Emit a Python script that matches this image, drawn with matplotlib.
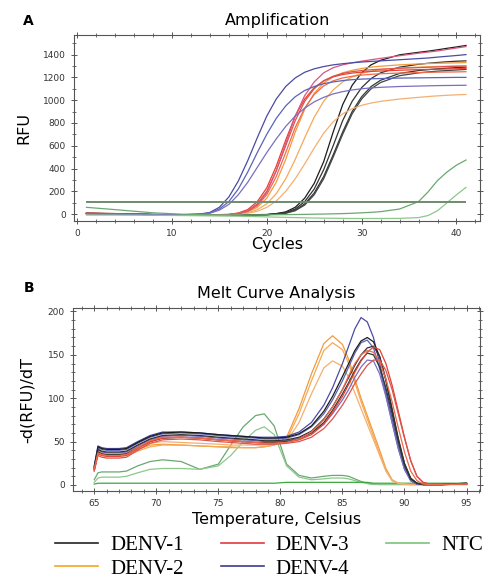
"""qPCR amplification and melt curve figure for DENV serotypes."""

import matplotlib
matplotlib.use("Agg")
import matplotlib.pyplot as plt
from matplotlib.lines import Line2D
from matplotlib.ticker import MultipleLocator

# ---- panel A: amplification (RFU per cycle) ----
CYCLES = [1, 4, 8, 11, 13, 14, 15, 16, 17, 18, 19, 20, 21, 22, 23, 24, 25, 26,
          27, 28, 29, 30, 31, 32, 34, 36, 37, 38, 39, 40, 41]

AMP_DENV1 = [
    [8, 5, -3, -5, -6, -6, -6, -6, -5, -5, -4, -3, 5, 20, 60, 140, 270, 460, 720, 960, 1130, 1240, 1310, 1350, 1398, 1420, 1430, 1442, 1455, 1467, 1480],
    [7, 4, -4, -6, -6, -6, -7, -7, -6, -6, -5, -4, 3, 15, 45, 110, 220, 390, 600, 820, 990, 1110, 1190, 1240, 1290, 1315, 1324, 1331, 1337, 1342, 1345],
    [6, 3, -4, -6, -7, -7, -7, -7, -7, -6, -6, -5, 2, 10, 35, 90, 185, 330, 520, 720, 900, 1030, 1120, 1175, 1235, 1260, 1268, 1275, 1281, 1286, 1290],
    [6, 3, -5, -7, -7, -7, -7, -7, -7, -7, -6, -5, 1, 8, 30, 80, 170, 310, 500, 700, 880, 1010, 1100, 1155, 1215, 1240, 1248, 1255, 1260, 1265, 1270],
]
AMP_DENV2 = [
    [7, 4, -3, -5, -5, -5, -5, -4, 5, 20, 60, 140, 280, 480, 720, 920, 1060, 1150, 1205, 1240, 1262, 1278, 1290, 1298, 1310, 1318, 1321, 1324, 1326, 1328, 1330],
    [6, 3, -4, -6, -6, -6, -6, -5, 3, 12, 40, 90, 180, 310, 480, 670, 850, 990, 1090, 1160, 1205, 1235, 1255, 1268, 1282, 1290, 1293, 1296, 1298, 1299, 1300],
    [5, 2, -5, -7, -7, -7, -6, -5, 2, 8, 25, 60, 115, 200, 310, 440, 580, 710, 810, 880, 925, 955, 975, 990, 1010, 1025, 1032, 1038, 1043, 1047, 1050],
]
AMP_DENV3 = [
    [8, 5, -3, -5, -5, -5, -4, -2, 10, 40, 110, 230, 420, 650, 860, 1010, 1110, 1170, 1205, 1225, 1238, 1246, 1252, 1256, 1263, 1268, 1270, 1272, 1274, 1276, 1278],
    [7, 4, -4, -6, -6, -5, -5, -3, 8, 30, 90, 200, 380, 600, 820, 990, 1100, 1170, 1210, 1235, 1250, 1260, 1267, 1272, 1280, 1286, 1289, 1292, 1295, 1298, 1300],
    [6, 3, -4, -6, -6, -6, -5, -4, 5, 25, 75, 170, 330, 540, 760, 930, 1050, 1125, 1170, 1195, 1210, 1220, 1227, 1232, 1238, 1242, 1244, 1246, 1247, 1248, 1250],
    [6, 3, -4, -6, -6, -6, -5, -4, 5, 25, 80, 190, 380, 620, 860, 1040, 1160, 1240, 1285, 1310, 1328, 1342, 1355, 1367, 1390, 1412, 1422, 1432, 1445, 1458, 1470],
]
AMP_DENV4 = [
    [6, 4, -3, -5, 2, 15, 60, 150, 290, 470, 670, 860, 1010, 1120, 1195, 1245, 1275, 1295, 1310, 1320, 1328, 1335, 1340, 1345, 1355, 1365, 1370, 1378, 1385, 1392, 1400],
    [5, 3, -4, -6, 0, 10, 45, 110, 220, 370, 540, 700, 840, 950, 1030, 1085, 1120, 1145, 1160, 1172, 1180, 1185, 1188, 1190, 1194, 1196, 1197, 1198, 1199, 1200, 1200],
    [4, 2, -4, -6, -1, 8, 35, 85, 170, 280, 410, 540, 660, 770, 860, 930, 985, 1025, 1055, 1075, 1090, 1100, 1108, 1113, 1120, 1124, 1126, 1128, 1129, 1130, 1131],
]
AMP_NTC = [
    [60, 40, 12, 0, -4, -5, -6, -6, -7, -7, -7, -6, -5, -4, -3, -2, 0, 1, 3, 5, 8, 12, 16, 22, 45, 110, 195, 295, 370, 430, 475],
    [-8, -8, -10, -12, -14, -15, -16, -17, -18, -20, -22, -24, -26, -28, -30, -32, -34, -35, -36, -37, -38, -38, -38, -38, -37, -30, -12, 30, 100, 170, 235],
]
THRESHOLD = 110

# ---- panel B: melt curves, -d(RFU)/dT per temperature ----
TEMPS = [65.0, 65.3, 65.6, 66.0, 67.0, 67.6, 68.5, 69.5, 70.5, 72.0, 73.5, 75.0, 76.0,
         77.0, 78.0, 78.7, 79.5, 80.5, 81.5, 82.5, 83.5, 84.2, 85.0, 85.5, 86.0, 86.5,
         87.0, 87.5, 88.0, 88.5, 89.0, 89.5, 90.0, 90.5, 91.0, 91.5, 92.0, 93.0, 95.0]

MELT_DENV1 = [
    [21, 44, 42, 41, 41, 42, 49, 56, 60, 61, 60, 58, 57, 56, 55, 54, 54, 55, 59, 68, 85, 102, 125, 140, 155, 166, 170, 165, 148, 120, 86, 52, 24, 7, 2, 0.5, 0.5, 0.5, 2],
    [19, 41, 39, 38, 38, 39, 46, 53, 57, 58, 57, 55, 54, 53, 52, 51, 51, 52, 55, 62, 76, 90, 110, 124, 138, 150, 158, 160, 148, 122, 88, 54, 25, 8, 2, 0.5, 0.5, 0.5, 2],
    [18, 38, 36, 35, 35, 36, 43, 50, 54, 55, 54, 52, 51, 50, 49, 49, 49, 50, 53, 60, 72, 86, 105, 118, 132, 144, 152, 150, 136, 112, 82, 50, 23, 7, 2, 0.5, 0.5, 0.5, 1],
]
MELT_DENV2 = [
    [18, 40, 36, 35, 35, 36, 41, 46, 47, 46, 45, 44, 43, 43, 43, 44, 46, 55, 88, 128, 163, 172, 162, 145, 122, 100, 80, 60, 40, 19, 6, 2, 1, 0.5, 0.5, 0.5, 0.5, 0.5, 1],
    [16, 37, 34, 33, 33, 34, 39, 44, 46, 46, 45, 44, 44, 43, 43, 44, 46, 52, 82, 120, 155, 164, 156, 140, 118, 96, 76, 56, 36, 17, 5, 2, 1, 0.5, 0.5, 0.5, 0.5, 0.5, 1],
    [20, 42, 38, 37, 37, 38, 43, 48, 50, 49, 48, 47, 46, 46, 46, 46, 47, 50, 72, 105, 135, 143, 137, 124, 106, 88, 70, 52, 34, 16, 5, 2, 1, 0.5, 0.5, 0.5, 0.5, 0.5, 1],
]
MELT_DENV3 = [
    [17, 36, 34, 33, 33, 34, 42, 50, 54, 55, 54, 52, 51, 50, 49, 48, 48, 49, 52, 58, 70, 84, 102, 116, 130, 143, 153, 159, 156, 140, 115, 85, 55, 28, 10, 3, 1, 0.5, 1],
    [16, 34, 32, 31, 31, 32, 40, 48, 52, 53, 52, 50, 49, 48, 47, 47, 47, 48, 50, 55, 65, 76, 92, 104, 117, 128, 138, 144, 144, 132, 110, 82, 54, 28, 10, 3, 1, 0.5, 1],
    [18, 37, 35, 34, 34, 35, 43, 51, 55, 55, 54, 52, 51, 50, 49, 48, 48, 49, 53, 61, 75, 90, 110, 126, 140, 150, 155, 153, 142, 122, 96, 66, 38, 16, 5, 1, 0.5, 0.5, 1],
]
MELT_DENV4 = [
    [22, 45, 43, 42, 42, 43, 50, 57, 61, 61, 60, 58, 57, 56, 55, 55, 55, 56, 61, 72, 92, 112, 140, 160, 180, 193, 188, 170, 140, 108, 76, 45, 20, 5, 1, 0.5, 0.5, 0.5, 1],
    [20, 43, 41, 40, 40, 41, 48, 55, 59, 60, 59, 57, 56, 55, 54, 53, 53, 54, 58, 67, 82, 98, 120, 136, 152, 164, 167, 158, 134, 104, 72, 42, 18, 5, 1, 0.5, 0.5, 0.5, 1],
    [19, 40, 38, 37, 37, 38, 45, 52, 56, 57, 56, 54, 53, 52, 51, 50, 50, 51, 54, 60, 70, 82, 98, 110, 124, 136, 144, 143, 128, 102, 72, 42, 18, 5, 1, 0.5, 0.5, 0.5, 1],
]
MELT_NTC = [
    [6, 14, 15, 15, 15, 16, 22, 27, 29, 27, 18, 24, 46, 67, 80, 82, 68, 24, 11, 8, 10, 11, 11, 10, 7, 4, 2, 1, 0.5, 0.5, 0.5, 0.5, 0.5, 0.5, 0.5, 0.5, 0.5, 0.5, 0.5],
    [3, 8, 9, 9, 9, 10, 14, 18, 19, 19, 18, 22, 34, 50, 63, 67, 58, 22, 9, 6, 7, 8, 8, 7, 5, 3, 1.5, 0.5, 0.5, 0.5, 0.5, 0.5, 0.5, 0.5, 0.5, 0.5, 0.5, 0.5, 0.5],
    [1, 2, 2, 2, 2, 2, 2, 2, 2, 2, 2, 2, 2, 2, 2, 2, 2, 3, 3, 3, 3, 3, 3, 3, 3, 3, 3, 2, 2, 2, 2, 2, 2, 2, 2, 2, 2, 2, 2],
]

SERIES = ["DENV-1", "DENV-2", "DENV-3", "DENV-4", "NTC"]
LEGEND_COLORS = {
    "DENV-1": "#222222",
    "DENV-2": "#f5a623",
    "DENV-3": "#e0393e",
    "DENV-4": "#3c3c8c",
    "NTC": "#7cc47c",
}
SHADES = {
    "DENV-1": ["#1c1c1c", "#333333", "#2b3a36", "#444444"],
    "DENV-2": ["#f39a3c", "#f5aa55", "#f4b070"],
    "DENV-3": ["#e8402f", "#d9534f", "#ee6a4d", "#d9577f"],
    "DENV-4": ["#4b4ba3", "#5a63b8", "#7a6fc0"],
    "NTC": ["#6aa870", "#8cc88c", "#3ea83e"],
}
THRESHOLD_COLOR = "#6e8b6e"
TEXT_FONT = "DejaVu Sans"


def style_axes(ax):
    for spine in ax.spines.values():
        spine.set_color("#555555")
        spine.set_linewidth(0.8)
    ax.tick_params(which="both", direction="inout", top=True, right=True,
                   colors="#555555", labelcolor="#333333", labelsize=6.5)
    ax.tick_params(which="major", length=4, width=0.7, pad=4)
    ax.tick_params(which="minor", length=2.5, width=0.6)


def draw_amplification(ax):
    groups = [AMP_DENV1, AMP_DENV2, AMP_DENV3, AMP_DENV4]
    for name, curves in zip(SERIES[:4], groups):
        for curve, color in zip(curves, SHADES[name]):
            ax.plot(CYCLES, curve, color=color, lw=0.9)
    for curve, color in zip(AMP_NTC, SHADES["NTC"]):
        ax.plot(CYCLES, curve, color=color, lw=0.9)
    ax.hlines(THRESHOLD, CYCLES[0], CYCLES[-1], color=THRESHOLD_COLOR, lw=1.4)
    ax.set_xlim(-0.3, 42.5)
    ax.set_ylim(-60, 1570)
    ax.xaxis.set_major_locator(MultipleLocator(10))
    ax.xaxis.set_minor_locator(MultipleLocator(2))
    ax.yaxis.set_major_locator(MultipleLocator(200))
    ax.yaxis.set_minor_locator(MultipleLocator(100))
    style_axes(ax)
    ax.set_title("Amplification", fontsize=11.5, family=TEXT_FONT, pad=7)
    ax.set_xlabel("Cycles", fontsize=11.5, family=TEXT_FONT)
    ax.set_ylabel("RFU", fontsize=11.5, family=TEXT_FONT)
    ax.xaxis.set_label_coords(0.5, -0.085)
    ax.yaxis.set_label_coords(-0.105, 0.5)


def draw_melt(ax):
    groups = [MELT_DENV2, MELT_DENV4, MELT_DENV1, MELT_DENV3]
    names = ["DENV-2", "DENV-4", "DENV-1", "DENV-3"]
    for curve, color in zip(MELT_NTC, SHADES["NTC"]):
        ax.plot(TEMPS, curve, color=color, lw=0.9)
    for name, curves in zip(names, groups):
        for curve, color in zip(curves, SHADES[name]):
            ax.plot(TEMPS, curve, color=color, lw=0.9)
    ax.set_xlim(63.3, 96.1)
    ax.set_ylim(-7, 204)
    ax.xaxis.set_major_locator(MultipleLocator(5))
    ax.xaxis.set_minor_locator(MultipleLocator(1))
    ax.yaxis.set_major_locator(MultipleLocator(50))
    ax.yaxis.set_minor_locator(MultipleLocator(10))
    style_axes(ax)
    ax.set_title("Melt Curve Analysis", fontsize=11.5, family=TEXT_FONT, pad=7)
    ax.set_xlabel("Temperature, Celsius", fontsize=11.5, family=TEXT_FONT)
    ax.set_ylabel("-d(RFU)/dT", fontsize=11.5, family=TEXT_FONT)
    ax.xaxis.set_label_coords(0.5, -0.112)
    ax.yaxis.set_label_coords(-0.095, 0.5)


def main():
    fig = plt.figure(figsize=(4.91, 5.87), dpi=100)
    ax_a = fig.add_axes([0.151, 0.6235, 0.827, 0.3165])
    ax_b = fig.add_axes([0.149, 0.1635, 0.829, 0.3118])
    draw_amplification(ax_a)
    draw_melt(ax_b)

    fig.text(0.058, 0.964, "A", fontsize=10, weight="bold", family=TEXT_FONT,
             ha="center", va="center")
    fig.text(0.060, 0.509, "B", fontsize=10, weight="bold", family=TEXT_FONT,
             ha="center", va="center")

    handles = [Line2D([], [], color=LEGEND_COLORS[s], lw=1.2) for s in SERIES]
    fig.legend(handles, SERIES, loc="center", bbox_to_anchor=(0.548, 0.051),
               ncol=3, frameon=False, prop={"family": "Liberation Serif", "size": 15},
               handlelength=2.07, handletextpad=0.58, columnspacing=1.75,
               labelspacing=0.2, borderpad=0.2)

    fig.savefig("out.png", dpi=100, facecolor="white")
    plt.close(fig)


if __name__ == "__main__":
    main()
